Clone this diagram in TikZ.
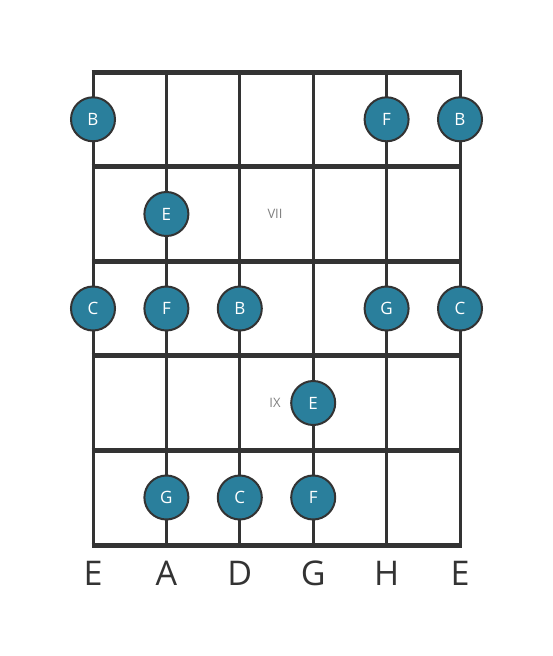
\documentclass[tikz,border=0pt]{standalone}
\usepackage{fontspec}
\setmainfont{Open Sans}
\usepackage{tikz}

\begin{document}
\begin{tikzpicture}[x=1pt, y=-1pt,
    note node/.style={circle, fill=notefill, draw=linecol, line width=2pt, text=white, minimum size=44pt, inner sep=0pt, font=\fontsize{17}{17}\selectfont},
    fret label/.style={text=gray, font=\fontsize{13}{13}\selectfont},
    string label/.style={text=linecol, font=\fontsize{34}{34}\selectfont},
    ]
  \definecolor{notefill}{HTML}{2A7F9C}
  \definecolor{linecol}{HTML}{333333}
  \useasboundingbox (0,0) rectangle (553,656);
  \def\dx{73.4}
  \def\dy{94.6}

  % saiten
  \foreach \s in {0,...,5} {
    \coordinate (top\s) at (93+\s*\dx, 72);
    \coordinate (bot\s) at (93+\s*\dx, 545);
    \draw[linecol, line width=3pt] (top\s) -- (bot\s);
  }
  % buende
  \foreach \f in {0,...,5} {
    \coordinate (fl\f) at (91.5, 72+\f*\dy);
    \coordinate (fr\f) at (461.5, 72+\f*\dy);
    \draw[linecol, line width=5pt] (fl\f) -- (fr\f);
  }

  \node[fret label] (vii) at (275, 214) {VII};
  \node[fret label] (ix) at (275, 403) {IX};

  \node[note node] (n1) at (93, 119.3) {B};
  \node[note node] (n2) at (93+4*\dx, 119.3) {F};
  \node[note node] (n3) at (93+5*\dx, 119.3) {B};

  \node[note node] (n4) at (93+\dx, 214) {E};

  \node[note node] (n5) at (93, 308.5) {C};
  \node[note node] (n6) at (93+\dx, 308.5) {F};
  \node[note node] (n7) at (93+2*\dx, 308.5) {B};
  \node[note node] (n8) at (93+4*\dx, 308.5) {G};
  \node[note node] (n9) at (93+5*\dx, 308.5) {C};

  \node[note node] (n10) at (93+3*\dx, 403) {E};

  \node[note node] (n11) at (93+\dx, 497.5) {G};
  \node[note node] (n12) at (93+2*\dx, 497.5) {C};
  \node[note node] (n13) at (93+3*\dx, 497.5) {F};

  \node[string label] (l0) at (93, 573) {E};
  \node[string label] (l1) at (93+\dx, 573) {A};
  \node[string label] (l2) at (93+2*\dx, 573) {D};
  \node[string label] (l3) at (93+3*\dx, 573) {G};
  \node[string label] (l4) at (93+4*\dx, 573) {H};
  \node[string label] (l5) at (93+5*\dx, 573) {E};
\end{tikzpicture}
\end{document}
